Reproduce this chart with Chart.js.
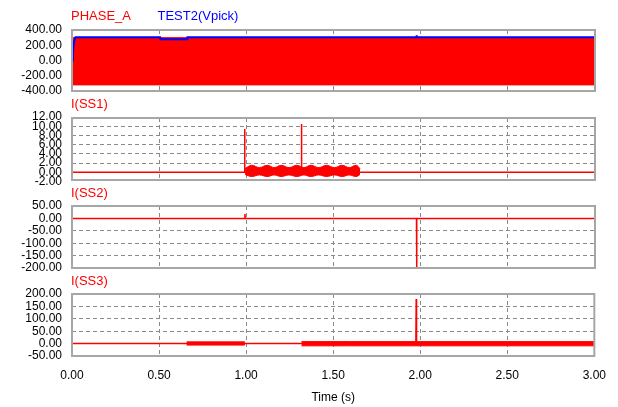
<!DOCTYPE html>
<html><head><meta charset="utf-8">
<script src="https://cdn.jsdelivr.net/npm/chart.js@4.4.0/dist/chart.umd.min.js"></script>
<style>
html,body{margin:0;padding:0;background:#fff;}
#wrap{position:relative;width:618px;height:407px;overflow:hidden;background:#fff;font-family:"Liberation Sans",Arial,sans-serif;}
canvas{position:absolute;left:0;}
.lbl{position:absolute;font-size:13px;line-height:15px;white-space:nowrap;}
</style></head><body>
<div id="wrap">
<canvas id="c1" width="618" height="97" style="top:12px"></canvas>
<canvas id="c2" width="618" height="98" style="top:100px"></canvas>
<canvas id="c3" width="618" height="98" style="top:188px"></canvas>
<canvas id="c4" width="618" height="131" style="top:276px"></canvas>
<div class="lbl" style="left:71px;top:7.5px;color:#ff0000">PHASE_A</div>
<div class="lbl" style="left:157.5px;top:7.5px;color:#0000ff">TEST2(Vpick)</div>
<div class="lbl" style="left:71px;top:96px;color:#ff0000">I(SS1)</div>
<div class="lbl" style="left:71px;top:184.5px;color:#ff0000">I(SS2)</div>
<div class="lbl" style="left:71px;top:272.5px;color:#ff0000">I(SS3)</div>
</div>
<script>
// ---------- data ----------
const timeTicks = [0, 0.5, 1, 1.5, 2, 2.5, 3];

// Panel 1: PHASE_A (dense 60 Hz oscillation, drawn as its envelope) and TEST2(Vpick)
const phaseATimes = [0, 3];
const phaseAUpper = [300, 300];
const phaseALower = [-320, -320];
const vpickTimes  = [0, 0.005, 0.012, 0.02, 0.505, 0.507, 0.66, 0.662, 1.975, 1.977, 1.979, 3.0];
const vpickValues = [0, 100, 250, 305, 305, 280, 280, 305, 305, 330, 305, 305];
const p1Ticks = [-400, -200, 0, 200, 400];

// Panel 2: I(SS1)
const ss1Times  = [0, 0.989, 0.990, 0.992, 1.314, 1.316, 1.318, 3.0];
const ss1Values = [0, 0, 9.4, 0, 0, 10.5, 0, 0];
const ss1BandTimes = [0.993, 1.03, 1.075, 1.12, 1.16, 1.20, 1.245, 1.29, 1.33, 1.37, 1.415, 1.46, 1.505, 1.55, 1.59, 1.63, 1.652];
const ss1BandUpper = [0.8, 1.5, 1.0, 1.5, 1.0, 1.5, 1.0, 1.5, 1.0, 1.5, 1.0, 1.5, 1.0, 1.5, 1.0, 1.5, 0.8];
const ss1BandLower = [-0.5, -0.95, -0.6, -0.95, -0.6, -0.95, -0.6, -0.95, -0.6, -0.95, -0.6, -0.95, -0.6, -0.95, -0.6, -0.95, -0.5];
const p2Ticks = [-2, 0, 2, 4, 6, 8, 10, 12];

// Panel 3: I(SS2)
const ss2Times  = [0, 0.991, 0.992, 0.994, 1.976, 1.977, 1.978, 3.0];
const ss2Values = [0, 0, 18, 0, 0, -200, 0, 0];
const p3Ticks = [-200, -150, -100, -50, 0, 50];

// Panel 4: I(SS3)
const ss3Times  = [0, 1.975, 1.977, 1.979, 3.0];
const ss3Values = [0, 0, 180, 0, 0];
const ss3BandATimes = [0.658, 0.75, 0.85, 0.993];
const ss3BandAUpper = [7, 7, 7, 7];
const ss3BandALower = [-6, -6, -6, -6];
const ss3BandBTimes = [1.318, 1.6, 2.0, 2.5, 3.0];
const ss3BandBUpper = [8, 8, 8, 8, 8];
const ss3BandBLower = [-9, -9, -9, -9, -9];
const p4Ticks = [-50, 0, 50, 100, 150, 200];

// ---------- helpers ----------
const RED = '#ff0000', BLUE = '#0000ff', GRID = '#8a8a8a', FRAME = '#a6a6a6';
const zip = (xs, ys) => xs.map((x, i) => ({x: x, y: ys[i]}));
const FONT = {family: '"Liberation Sans", Arial, sans-serif', size: 12};

const frame = {
  id: 'frame',
  afterDraw(chart) {
    const a = chart.chartArea, c = chart.ctx;
    c.save();
    c.strokeStyle = FRAME; c.lineWidth = 2;
    c.strokeRect(a.left, a.top, a.right - a.left, a.bottom - a.top);
    c.restore();
  }
};

function lineDs(label, xs, ys, color, width, extra) {
  return Object.assign({
    type: 'line', label: label, data: zip(xs, ys),
    borderColor: color, backgroundColor: color, borderWidth: width,
    pointRadius: 0, tension: 0, fill: false
  }, extra || {});
}

function gridColor(min, max) {
  return (ctx) => {
    const v = ctx.tick ? ctx.tick.value : null;
    if (v === null || v <= min + 1e-9 || v >= max - 1e-9) return 'rgba(0,0,0,0)';
    return GRID;
  };
}

function makeChart(id, datasets, yMin, yMax, yTicks, bottom, padTop, padBottom) {
  const xOpts = {
    type: 'linear', min: 0, max: 3,
    afterBuildTicks: (s) => { s.ticks = timeTicks.map(v => ({value: v})); },
    grid: {color: gridColor(0, 3), drawTicks: false, lineWidth: 1},
    border: {display: false, dash: [4, 3]},
    ticks: {display: false}
  };
  if (bottom) {
    xOpts.ticks = {display: true, autoSkip: false, maxRotation: 0, padding: 12, color: '#000', font: FONT,
      callback: (v) => Number(v).toFixed(2)};
    xOpts.title = {display: true, text: 'Time (s)', color: '#000', font: FONT, padding: {top: 0, bottom: 2}};
    xOpts.afterFit = (s) => { s.height = 51; };
  } else {
    xOpts.afterFit = (s) => { s.height = 0; };
  }
  return new Chart(document.getElementById(id), {
    type: 'line',
    data: {datasets: datasets},
    options: {
      responsive: false, animation: false, devicePixelRatio: 1,
      layout: {padding: {left: 0, right: 23, top: padTop, bottom: padBottom}},
      plugins: {legend: {display: false}, tooltip: {enabled: false}},
      scales: {
        x: xOpts,
        y: {
          type: 'linear', min: yMin, max: yMax,
          afterBuildTicks: (s) => { s.ticks = yTicks.map(v => ({value: v})); },
          afterFit: (s) => { s.width = 72; },
          grid: {color: gridColor(yMin, yMax), drawTicks: false, lineWidth: 1},
          border: {display: false, dash: [4, 3]},
          ticks: {autoSkip: false, padding: 10, color: '#000', font: FONT,
            callback: (v) => Number(v).toFixed(2)}
        }
      }
    },
    plugins: [frame]
  });
}

// Panel 1
makeChart('c1', [
  lineDs('TEST2(Vpick)', vpickTimes, vpickValues, BLUE, 2),
  lineDs('PHASE_A', phaseATimes, phaseAUpper, RED, 1, {fill: '+1'}),
  lineDs('PHASE_A (min)', phaseATimes, phaseALower, RED, 1)
], -400, 400, p1Ticks, false, 18, 18);

// Panel 2
makeChart('c2', [
  lineDs('I(SS1)', ss1Times, ss1Values, RED, 1.5),
  lineDs('I(SS1) band', ss1BandTimes, ss1BandUpper, RED, 1, {fill: '+1', tension: 0.4}),
  lineDs('I(SS1) band min', ss1BandTimes, ss1BandLower, RED, 1, {tension: 0.4})
], -1.7, 11.8, p2Ticks, false, 18, 18);

// Panel 3
makeChart('c3', [
  lineDs('I(SS2)', ss2Times, ss2Values, RED, 1.5)
], -200, 50, p3Ticks, false, 18, 18);

// Panel 4
makeChart('c4', [
  lineDs('I(SS3)', ss3Times, ss3Values, RED, 1.5),
  lineDs('I(SS3) band A', ss3BandATimes, ss3BandAUpper, RED, 1, {fill: '+1'}),
  lineDs('I(SS3) band A min', ss3BandATimes, ss3BandALower, RED, 1),
  lineDs('I(SS3) band B', ss3BandBTimes, ss3BandBUpper, RED, 1, {fill: '+1'}),
  lineDs('I(SS3) band B min', ss3BandBTimes, ss3BandBLower, RED, 1)
], -50, 200, p4Ticks, true, 18, 0);
</script>
</body></html>
